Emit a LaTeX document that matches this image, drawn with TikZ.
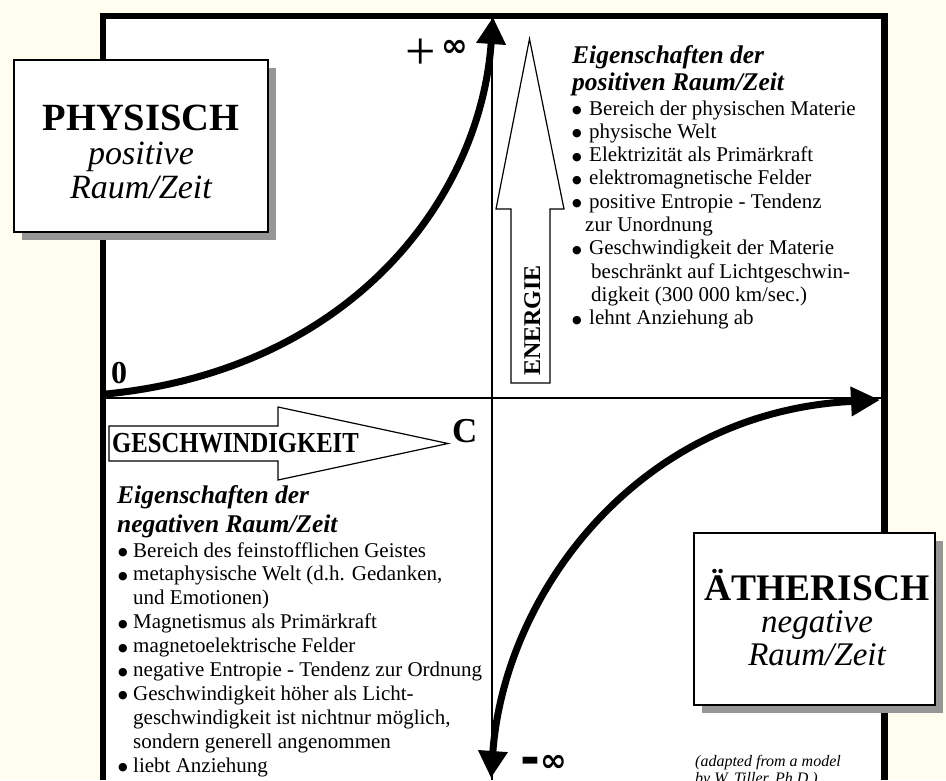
\documentclass[tikz,border=0pt]{standalone}
\usepackage{fontspec}
\setmainfont{Liberation Serif}
\newfontfamily\djv{DejaVu Sans}
\usetikzlibrary{arrows.meta}
\definecolor{cream}{RGB}{255,253,240}
\definecolor{shadowgray}{RGB}{150,150,150}
\newcommand\fsz[1]{\fontsize{#1}{#1}\selectfont}
\newcommand\bul{\raisebox{1.5pt}{\djv\fontsize{11}{11}\selectfont ●}}
\begin{document}
\begin{tikzpicture}[x=1pt,y=-1pt,
  frameline/.style={line width=6.5pt, line join=miter},
  axisline/.style={line width=1.3pt},
  bigcurve/.style={line width=7pt},
  tip/.style={-{Triangle[length=27pt,width=28pt]}},
  outlinearrow/.style={draw, line width=1.2pt, fill=white, line join=miter},
  labelbox/.style={draw, line width=1.2pt, fill=white, minimum width=#1, minimum height=172pt, inner sep=0pt},
  shadowbox/.style={fill=shadowgray, minimum width=#1, minimum height=172pt, inner sep=0pt},
  txt/.style={anchor=base west, inner sep=0pt},
  ctxt/.style={anchor=base, inner sep=0pt},
  bullets/.style={anchor=base west, inner sep=0pt, align=left, font={\fontsize{21}{#1}\selectfont}},
  ttl/.style={anchor=base west, inner sep=0pt, align=left, font={\fontsize{25.5}{#1}\selectfont\bfseries\itshape}}
]
\useasboundingbox (0,0) rectangle (946,780);
\clip (0,0) rectangle (946,780);
\fill[cream] (0,0) rectangle (946,780);
\fill[white] (103,16) rectangle (884.5,780);

% coordinates
\coordinate (fbl) at (103,780);
\coordinate (ftl) at (103,16);
\coordinate (ftr) at (884.5,16);
\coordinate (fbr) at (884.5,780);
\coordinate (axl) at (103,398);
\coordinate (axr) at (884.5,398);
\coordinate (axt) at (492,16);
\coordinate (axb) at (492,780);
\coordinate (zero) at (106,394);
\coordinate (plusinf) at (493,17);
\coordinate (cpoint) at (880,400);
\coordinate (minusinf) at (491,778);

% axes
\draw[axisline] (axl) -- (axr);
\draw[axisline] (axt) -- (axb);

% frame
\draw[frameline] (fbl) -- (ftl) -- (ftr) -- (fbr);

% curves
\draw[bigcurve, tip] (zero) .. controls (350,370) and (480,200) .. (plusinf);
\draw[bigcurve, {Triangle[length=29pt,width=28pt]}-{Triangle[length=27pt,width=28pt]}]
  (cpoint) .. controls (636,412) and (504,596) .. (minusinf);

% ENERGIE arrow
\draw[outlinearrow] (511,383) -- (511,209) -- (496,209) -- (529.5,39) -- (564,209) -- (550,209) -- (550,383) -- cycle;
\node[anchor=base, inner sep=0pt, rotate=90, font={\fsz{24}\bfseries}] (energie) at (540,320.5) {ENERGIE};

% GESCHWINDIGKEIT arrow
\draw[outlinearrow] (109,426) -- (278,426) -- (278,407) -- (448,443.5) -- (278,480) -- (278,461) -- (109,461) -- cycle;
\node[txt, font={\fsz{29}\bfseries}] (gesch) at (112,452) {\scalebox{0.85}[1]{GESCHWINDIGKEIT}};

% axis labels
\node[txt, font={\fsz{32}\bfseries}] (nulllabel) at (111,383) {0};
\node[txt, font={\fsz{35}\bfseries}] (clabel) at (452,442) {C};
\node[inner sep=0pt, font=\fsz{54}] (plussign) at (420.5,54) {+};
\node[inner sep=0pt, font={\djv\bfseries\fsz{32}}] (inftop) at (455,48) {∞};
\node[inner sep=0pt, font={\djv\bfseries\fsz{32}}] (infbot) at (544,765) {\raisebox{-3pt}{\scalebox{1.5}[1.5]{-}}∞};

% PHYSISCH box
\node[shadowbox=254pt] (physshadow) at (149,154) {};
\node[labelbox=254pt] (physbox) at (141,146) {};
\node[ctxt, font={\fsz{38.5}\bfseries}] (phys1) at (141,130) {PHYSISCH};
\node[ctxt, font={\fsz{34}\itshape}] (phys2) at (141,164) {positive};
\node[ctxt, font={\fsz{34}\itshape}] (phys3) at (141,198) {Raum/Zeit};

% AETHERISCH box
\node[shadowbox=241pt] (aethshadow) at (822.5,627) {};
\node[labelbox=241pt] (aethbox) at (814.5,619) {};
\node[ctxt, font={\fsz{37.5}\bfseries}] (aeth1) at (817,600) {ÄTHERISCH};
\node[ctxt, font={\fsz{33}\itshape}] (aeth2) at (817,632) {negative};
\node[ctxt, font={\fsz{33}\itshape}] (aeth3) at (817,665) {Raum/Zeit};

% positive properties
\node[ttl=27] (postitle) at (572,90) {Eigenschaften der\\positiven Raum/Zeit};
\node[bullets=23.3] (poslist) at (572,324.7) {%
\makebox[17pt][l]{\bul}Bereich der physischen Materie\\
\makebox[17pt][l]{\bul}physische Welt\\
\makebox[17pt][l]{\bul}Elektrizität als Primärkraft\\
\makebox[17pt][l]{\bul}elektromagnetische Felder\\
\makebox[17pt][l]{\bul}positive Entropie - Tendenz\\
\hspace*{13pt}zur Unordnung\\
\makebox[17pt][l]{\bul}Geschwindigkeit der Materie\\
\hspace*{19pt}beschränkt auf Lichtgeschwin-\\
\hspace*{19pt}digkeit (300 000 km/sec.)\\
\makebox[17pt][l]{\bul}lehnt Anziehung ab};

% negative properties
\node[ttl=29] (negtitle) at (117,532) {Eigenschaften der\\negativen Raum/Zeit};
\node[bullets=23.9] (neglist) at (118,772.1) {%
\makebox[15pt][l]{\bul}Bereich des feinstofflichen Geistes\\
\makebox[15pt][l]{\bul}metaphysische Welt (d.h. Gedanken,\\
\hspace*{15pt}und Emotionen)\\
\makebox[15pt][l]{\bul}Magnetismus als Primärkraft\\
\makebox[15pt][l]{\bul}magnetoelektrische Felder\\
\makebox[15pt][l]{\bul}negative Entropie - Tendenz zur Ordnung\\
\makebox[15pt][l]{\bul}Geschwindigkeit höher als Licht-\\
\hspace*{15pt}geschwindigkeit ist nichtnur möglich,\\
\hspace*{15pt}sondern generell angenommen\\
\makebox[15pt][l]{\bul}liebt Anziehung};

% credit
\node[txt, align=left, font={\fontsize{16}{17.5}\selectfont\itshape}] (credit) at (695,783.5) {(adapted from a model\\by W. Tiller, Ph.D.)};
\end{tikzpicture}
\end{document}
